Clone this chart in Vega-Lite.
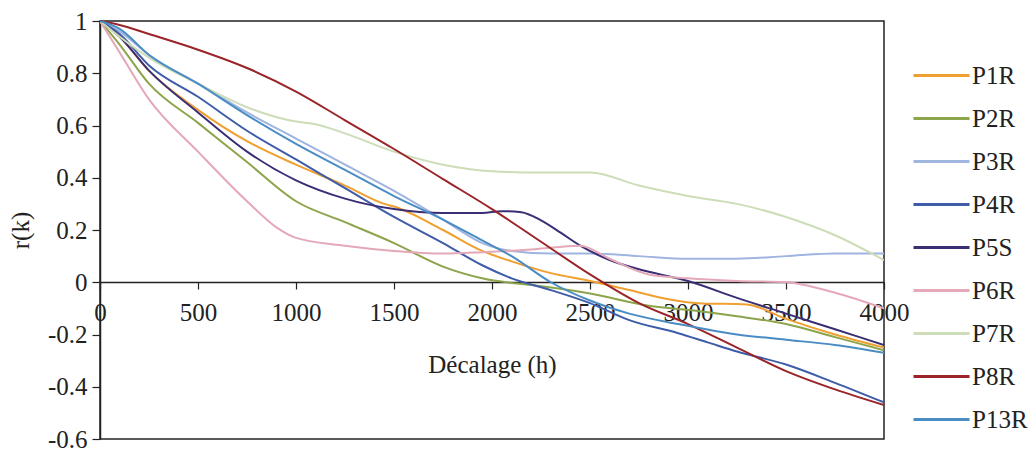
{
  "$schema": "https://vega.github.io/schema/vega-lite/v6.json",
  "width": 784,
  "height": 418,
  "autosize": {"type": "none"},
  "padding": {"left": 100, "top": 21, "right": 148, "bottom": 12},
  "background": "white",
  "config": {
    "view": {"stroke": "#222", "strokeWidth": 1.5},
    "font": "Liberation Serif",
    "axis": {"labelFont": "Liberation Serif", "titleFont": "Liberation Serif"},
    "legend": {"labelFont": "Liberation Serif"}
  },
  "datasets": {
    "acf": [
      {"s":"P1R","k":0,"r":1},{"s":"P1R","k":100,"r":0.94},{"s":"P1R","k":250,"r":0.81},{"s":"P1R","k":500,"r":0.66},{"s":"P1R","k":750,"r":0.54},{"s":"P1R","k":1000,"r":0.45},{"s":"P1R","k":1250,"r":0.37},{"s":"P1R","k":1450,"r":0.3},{"s":"P1R","k":1500,"r":0.29},{"s":"P1R","k":1750,"r":0.2},{"s":"P1R","k":1950,"r":0.12},{"s":"P1R","k":2100,"r":0.08},{"s":"P1R","k":2300,"r":0.035},{"s":"P1R","k":2500,"r":0.005},{"s":"P1R","k":2700,"r":-0.03},{"s":"P1R","k":2900,"r":-0.065},{"s":"P1R","k":3050,"r":-0.08},{"s":"P1R","k":3300,"r":-0.085},{"s":"P1R","k":3500,"r":-0.14},{"s":"P1R","k":3750,"r":-0.2},{"s":"P1R","k":4000,"r":-0.25},

      {"s":"P2R","k":0,"r":1},{"s":"P2R","k":100,"r":0.91},{"s":"P2R","k":250,"r":0.76},{"s":"P2R","k":500,"r":0.61},{"s":"P2R","k":750,"r":0.46},{"s":"P2R","k":1000,"r":0.31},{"s":"P2R","k":1250,"r":0.23},{"s":"P2R","k":1500,"r":0.15},{"s":"P2R","k":1750,"r":0.06},{"s":"P2R","k":1950,"r":0.015},{"s":"P2R","k":2250,"r":-0.015},{"s":"P2R","k":2500,"r":-0.043},{"s":"P2R","k":2800,"r":-0.09},{"s":"P2R","k":3050,"r":-0.11},{"s":"P2R","k":3250,"r":-0.13},{"s":"P2R","k":3500,"r":-0.16},{"s":"P2R","k":3750,"r":-0.21},{"s":"P2R","k":4000,"r":-0.26},

      {"s":"P3R","k":0,"r":1},{"s":"P3R","k":100,"r":0.96},{"s":"P3R","k":250,"r":0.87},{"s":"P3R","k":500,"r":0.76},{"s":"P3R","k":750,"r":0.65},{"s":"P3R","k":1000,"r":0.55},{"s":"P3R","k":1250,"r":0.45},{"s":"P3R","k":1500,"r":0.35},{"s":"P3R","k":1750,"r":0.24},{"s":"P3R","k":1950,"r":0.15},{"s":"P3R","k":2100,"r":0.12},{"s":"P3R","k":2300,"r":0.11},{"s":"P3R","k":2500,"r":0.11},{"s":"P3R","k":2750,"r":0.1},{"s":"P3R","k":3000,"r":0.09},{"s":"P3R","k":3250,"r":0.09},{"s":"P3R","k":3500,"r":0.1},{"s":"P3R","k":3750,"r":0.11},{"s":"P3R","k":4000,"r":0.11},

      {"s":"P4R","k":0,"r":1},{"s":"P4R","k":100,"r":0.95},{"s":"P4R","k":250,"r":0.83},{"s":"P4R","k":500,"r":0.71},{"s":"P4R","k":750,"r":0.58},{"s":"P4R","k":1000,"r":0.47},{"s":"P4R","k":1250,"r":0.36},{"s":"P4R","k":1500,"r":0.25},{"s":"P4R","k":1750,"r":0.15},{"s":"P4R","k":1950,"r":0.065},{"s":"P4R","k":2100,"r":0.015},{"s":"P4R","k":2300,"r":-0.03},{"s":"P4R","k":2500,"r":-0.08},{"s":"P4R","k":2700,"r":-0.145},{"s":"P4R","k":2950,"r":-0.195},{"s":"P4R","k":3100,"r":-0.23},{"s":"P4R","k":3250,"r":-0.265},{"s":"P4R","k":3500,"r":-0.315},{"s":"P4R","k":3750,"r":-0.385},{"s":"P4R","k":4000,"r":-0.46},

      {"s":"P5S","k":0,"r":1},{"s":"P5S","k":100,"r":0.94},{"s":"P5S","k":250,"r":0.81},{"s":"P5S","k":500,"r":0.65},{"s":"P5S","k":750,"r":0.5},{"s":"P5S","k":1000,"r":0.39},{"s":"P5S","k":1250,"r":0.32},{"s":"P5S","k":1500,"r":0.28},{"s":"P5S","k":1750,"r":0.265},{"s":"P5S","k":1950,"r":0.265},{"s":"P5S","k":2050,"r":0.272},{"s":"P5S","k":2150,"r":0.268},{"s":"P5S","k":2250,"r":0.237},{"s":"P5S","k":2350,"r":0.19},{"s":"P5S","k":2450,"r":0.14},{"s":"P5S","k":2600,"r":0.085},{"s":"P5S","k":2800,"r":0.04},{"s":"P5S","k":3000,"r":0.005},{"s":"P5S","k":3250,"r":-0.06},{"s":"P5S","k":3500,"r":-0.12},{"s":"P5S","k":3750,"r":-0.18},{"s":"P5S","k":4000,"r":-0.24},

      {"s":"P6R","k":0,"r":1},{"s":"P6R","k":100,"r":0.88},{"s":"P6R","k":250,"r":0.7},{"s":"P6R","k":500,"r":0.5},{"s":"P6R","k":750,"r":0.31},{"s":"P6R","k":900,"r":0.21},{"s":"P6R","k":1000,"r":0.17},{"s":"P6R","k":1250,"r":0.14},{"s":"P6R","k":1500,"r":0.12},{"s":"P6R","k":1750,"r":0.11},{"s":"P6R","k":1950,"r":0.115},{"s":"P6R","k":2200,"r":0.125},{"s":"P6R","k":2450,"r":0.14},{"s":"P6R","k":2600,"r":0.09},{"s":"P6R","k":2800,"r":0.03},{"s":"P6R","k":3000,"r":0.015},{"s":"P6R","k":3250,"r":0.005},{"s":"P6R","k":3500,"r":0.0},{"s":"P6R","k":3750,"r":-0.04},{"s":"P6R","k":4000,"r":-0.1},

      {"s":"P7R","k":0,"r":1},{"s":"P7R","k":100,"r":0.94},{"s":"P7R","k":250,"r":0.86},{"s":"P7R","k":500,"r":0.76},{"s":"P7R","k":750,"r":0.67},{"s":"P7R","k":1000,"r":0.615},{"s":"P7R","k":1100,"r":0.605},{"s":"P7R","k":1250,"r":0.57},{"s":"P7R","k":1500,"r":0.5},{"s":"P7R","k":1750,"r":0.45},{"s":"P7R","k":2000,"r":0.425},{"s":"P7R","k":2250,"r":0.42},{"s":"P7R","k":2500,"r":0.42},{"s":"P7R","k":2750,"r":0.37},{"s":"P7R","k":3000,"r":0.33},{"s":"P7R","k":3250,"r":0.3},{"s":"P7R","k":3500,"r":0.25},{"s":"P7R","k":3750,"r":0.18},{"s":"P7R","k":4000,"r":0.085},

      {"s":"P8R","k":0,"r":1},{"s":"P8R","k":100,"r":0.985},{"s":"P8R","k":250,"r":0.95},{"s":"P8R","k":500,"r":0.89},{"s":"P8R","k":750,"r":0.82},{"s":"P8R","k":1000,"r":0.73},{"s":"P8R","k":1250,"r":0.62},{"s":"P8R","k":1500,"r":0.51},{"s":"P8R","k":1750,"r":0.395},{"s":"P8R","k":2000,"r":0.28},{"s":"P8R","k":2250,"r":0.155},{"s":"P8R","k":2500,"r":0.03},{"s":"P8R","k":2750,"r":-0.08},{"s":"P8R","k":3000,"r":-0.16},{"s":"P8R","k":3250,"r":-0.25},{"s":"P8R","k":3500,"r":-0.34},{"s":"P8R","k":3750,"r":-0.41},{"s":"P8R","k":4000,"r":-0.47},

      {"s":"P13R","k":0,"r":1},{"s":"P13R","k":100,"r":0.97},{"s":"P13R","k":250,"r":0.87},{"s":"P13R","k":500,"r":0.76},{"s":"P13R","k":750,"r":0.64},{"s":"P13R","k":1000,"r":0.53},{"s":"P13R","k":1250,"r":0.43},{"s":"P13R","k":1500,"r":0.33},{"s":"P13R","k":1750,"r":0.24},{"s":"P13R","k":1950,"r":0.16},{"s":"P13R","k":2100,"r":0.1},{"s":"P13R","k":2300,"r":0.0},{"s":"P13R","k":2500,"r":-0.07},{"s":"P13R","k":2700,"r":-0.12},{"s":"P13R","k":2950,"r":-0.16},{"s":"P13R","k":3250,"r":-0.2},{"s":"P13R","k":3500,"r":-0.22},{"s":"P13R","k":3750,"r":-0.24},{"s":"P13R","k":4000,"r":-0.27}
    ]
  },
  "data": {"name": "acf"},
  "mark": {"type": "line", "strokeWidth": 2, "interpolate": "monotone", "clip": true},
  "encoding": {
    "x": {
      "field": "k", "type": "quantitative",
      "scale": {"domain": [0, 4000], "nice": false, "zero": false},
      "axis": {
        "title": "Décalage (h)",
        "values": [0, 500, 1000, 1500, 2000, 2500, 3000, 3500, 4000],
        "format": "d",
        "offset": -157,
        "grid": false,
        "domainColor": "#222", "domainWidth": 1.5,
        "tickColor": "#222", "tickSize": 7, "tickWidth": 1.2,
        "labelPadding": 11, "labelFontSize": 25, "labelColor": "#222", "labelFlush": false,
        "titleFontSize": 25, "titleFontWeight": "normal", "titleColor": "#222", "titlePadding": 27
      }
    },
    "y": {
      "field": "r", "type": "quantitative",
      "scale": {"domain": [-0.6, 1], "nice": false, "zero": false},
      "axis": {
        "title": "r(k)",
        "values": [-0.6, -0.4, -0.2, 0, 0.2, 0.4, 0.6, 0.8, 1],
        "format": "~g",
        "labelExpr": "replace(datum.label, '\u2212', '-')",
        "grid": false,
        "domainColor": "#222", "domainWidth": 1.5,
        "tickColor": "#222", "tickSize": 8, "tickWidth": 1.2,
        "labelPadding": 5, "labelFontSize": 25, "labelColor": "#222",
        "titleFontSize": 25, "titleFontWeight": "normal", "titleColor": "#222", "titlePadding": 14
      }
    },
    "color": {
      "field": "s", "type": "nominal",
      "scale": {
        "domain": ["P1R", "P2R", "P3R", "P4R", "P5S", "P6R", "P7R", "P8R", "P13R"],
        "range": ["#F0A030", "#8CA44A", "#A0B4E0", "#3E5CA8", "#3A2E74", "#E4A8B8", "#CCDDB8", "#9A2428", "#4A8CC4"]
      },
      "legend": {
        "title": null,
        "orient": "none",
        "legendX": 812,
        "legendY": 25,
        "symbolType": "stroke",
        "symbolSize": 3136,
        "symbolStrokeWidth": 3,
        "rowPadding": -15,
        "labelFontSize": 25,
        "labelColor": "#222",
        "labelOffset": 1,
        "padding": 0
      }
    }
  }
}
